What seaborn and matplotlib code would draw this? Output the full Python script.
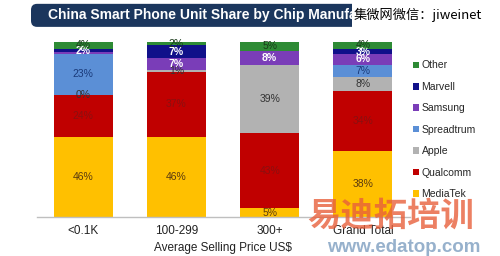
import matplotlib
matplotlib.use("Agg")
import matplotlib.pyplot as plt
import seaborn as sns
import numpy as np
import pandas as pd
from matplotlib.patches import FancyBboxPatch, Rectangle, Patch

categories = ["<0.1K", "100-299", "300+", "Grand Total"]
series_names = ["MediaTek", "Qualcomm", "Apple", "Spreadtrum", "Samsung", "Marvell", "Other"]
mediatek = [46, 46, 5, 38]
qualcomm = [24, 37, 43, 34]
apple = [0, 1, 39, 8]
spreadtrum = [23, 0, 0, 7]
samsung = [1, 7, 8, 6]
marvell = [2, 7, 0, 3]
other = [4, 2, 5, 4]
label_show = {
    "MediaTek": [True, True, True, True],
    "Qualcomm": [True, True, True, True],
    "Apple": [True, True, True, True],
    "Spreadtrum": [True, False, False, True],
    "Samsung": [False, True, True, True],
    "Marvell": [True, True, False, True],
    "Other": [True, True, True, True],
}
colors = {
    "MediaTek": "#ffc000",
    "Qualcomm": "#c00000",
    "Apple": "#b2b2b2",
    "Spreadtrum": "#5b8fd6",
    "Samsung": "#7a3db8",
    "Marvell": "#10108a",
    "Other": "#2e8b35",
}
text_colors = {
    "MediaTek": "#5a3a10",
    "Qualcomm": "#8a1010",
    "Apple": "#333333",
    "Spreadtrum": "#1a3a7a",
    "Samsung": "white",
    "Marvell": "white",
    "Other": "#1a3a1a",
}
values = [mediatek, qualcomm, apple, spreadtrum, samsung, marvell, other]

sns.set_theme(style="white")
plt.rcParams["font.family"] = ["Liberation Sans", "DejaVu Sans"]

fig = plt.figure(figsize=(5.0, 2.56), dpi=100)
ax = fig.add_axes([0.073, 0.152, 0.746, 0.684])

arr = np.array(values, dtype=float)
cum = np.cumsum(arr, axis=0)
bottoms = cum - arr

for i in range(len(series_names) - 1, -1, -1):
    df = pd.DataFrame({"cat": categories, "val": cum[i]})
    sns.barplot(data=df, x="cat", y="val", color=colors[series_names[i]],
                width=0.635, ax=ax, saturation=1, edgecolor="none", linewidth=0)

for i, name in enumerate(series_names):
    for j in range(len(categories)):
        if not label_show[name][j]:
            continue
        y = bottoms[i, j] + arr[i, j] / 2
        ax.text(j, y, f"{int(arr[i, j])}%", ha="center", va="center",
                fontsize=7.5, color=text_colors[name],
                fontweight="bold" if name in ("Samsung", "Marvell") else "normal")

ax.set_xlim(-0.5, 3.5)
ax.set_ylim(0, 100)
ax.set_yticks([])
ax.set_ylabel("")
for s in ["top", "left", "right"]:
    ax.spines[s].set_visible(False)
ax.spines["bottom"].set_color("#bfbfbf")
ax.spines["bottom"].set_linewidth(1)
ax.tick_params(axis="x", length=0, labelsize=8.5, colors="#222222", pad=6)
ax.set_xlabel("Average Selling Price US$", fontsize=8.5, color="#222222", labelpad=3)

handles = [Patch(facecolor=colors[n], edgecolor="none") for n in series_names[::-1]]
leg = fig.legend(handles, series_names[::-1], loc="upper left",
                 bbox_to_anchor=(0.818, 0.78), frameon=False, fontsize=7.5,
                 handlelength=0.6, handleheight=0.6, handletextpad=0.2,
                 labelspacing=1.1, borderaxespad=0)

banner = FancyBboxPatch((0.062, 0.895), 0.905, 0.09,
                        boxstyle="round,pad=0,rounding_size=0.012",
                        transform=fig.transFigure, facecolor="#1b365d",
                        edgecolor="none", mutation_aspect=2)
fig.patches.append(banner)
fig.text(0.097, 0.94, "China Smart Phone Unit Share by Chip Manufacturer",
         color="white", fontsize=10, fontweight="bold", va="center", ha="left")
fig.patches.append(Rectangle((0.704, 0.893), 0.276, 0.094,
                             transform=fig.transFigure, facecolor="white",
                             edgecolor="none", zorder=5))
fig.text(0.708, 0.94, "集微网微信：jiweinet", fontsize=9.5, color="black",
         va="center", ha="left", zorder=6,
         family=["Noto Sans CJK SC", "DejaVu Sans"])

fig.text(0.615, 0.155, "易迪拓培训", fontsize=24, color="#e8603c", alpha=0.8,
         fontweight="bold", va="center", ha="left",
         family=["Noto Sans CJK SC", "DejaVu Sans"])
fig.text(0.655, 0.033, "www.edatop.com", fontsize=13.5, color="#7d9ec0", alpha=0.8,
         fontweight="bold", va="center", ha="left")

fig.savefig("out.png", dpi=100, facecolor="white")
